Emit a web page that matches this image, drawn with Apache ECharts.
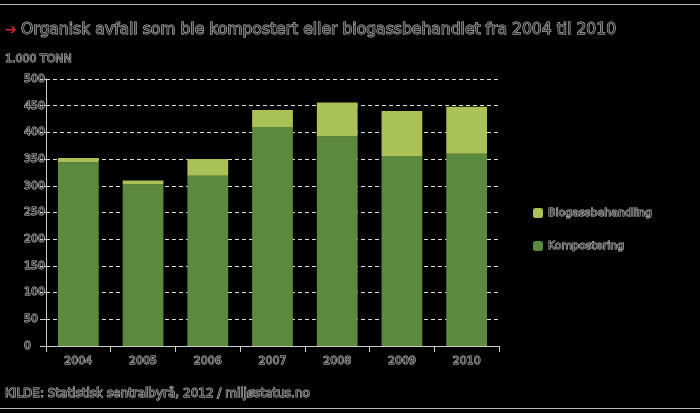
<!DOCTYPE html>
<html><head><meta charset="utf-8">
<script src="https://cdn.jsdelivr.net/npm/echarts@6/dist/echarts.min.js"></script>
<style>html,body{margin:0;padding:0;background:#000;}#c{width:700px;height:413px;}</style>
</head><body><div id="c"></div>
<script>
const years = ['2004','2005','2006','2007','2008','2009','2010'];
const kompostering = [344, 303, 319, 410, 393, 356, 360];
const biogass = [8, 7, 31, 32, 63, 84, 88];
const yTicks = [0, 50, 100, 150, 200, 250, 300, 350, 400, 450, 500];

const txt = {color:'#333', textBorderColor:'#cfcfcf', textBorderWidth:1, fontFamily:'DejaVu Sans'};
const chart = echarts.init(document.getElementById('c'));
chart.setOption({
  backgroundColor:'#000',
  animation:false,
  title:[{
    text:'{a|➔}{t|Organisk avfall som ble kompostert eller biogassbehandlet fra 2004 til 2010}',
    left:0, top:17,
    textStyle:Object.assign({}, txt, {fontSize:15.6, fontWeight:'normal', rich:{
      a:{color:'#d2232a', fontSize:14, textBorderWidth:0, width:16},
      t:Object.assign({}, txt, {fontSize:15.6})
    }})
  },{
    text:'1.000 TONN', left:0, top:49,
    textStyle:Object.assign({}, txt, {fontSize:11, fontWeight:'normal'})
  },{
    text:'KILDE: Statistisk sentralbyrå, 2012 / miljøstatus.no', left:0, top:383,
    textStyle:Object.assign({}, txt, {fontSize:12, fontWeight:'normal'})
  }],
  graphic:[
    {type:'line', shape:{x1:0,y1:4.5,x2:700,y2:4.5}, style:{stroke:'#bbb', lineWidth:1}},
    {type:'line', shape:{x1:0,y1:408.5,x2:700,y2:408.5}, style:{stroke:'#bbb', lineWidth:1}}
  ],
  legend:{
    orient:'vertical', left:528, top:202, itemGap:21, itemWidth:10, itemHeight:10,
    data:['Biogassbehandling','Kompostering'],
    textStyle:Object.assign({}, txt, {fontSize:11})
  },
  grid:{left:46, right:201, top:79, bottom:67},
  xAxis:{
    type:'category', data:years,
    axisLine:{lineStyle:{color:'#ccc'}},
    axisTick:{show:true, length:6, lineStyle:{color:'#ccc'}},
    axisLabel:Object.assign({}, txt, {fontSize:11, margin:10})
  },
  yAxis:{
    type:'value', min:0, max:500, interval:50,
    axisLine:{show:true, lineStyle:{color:'#ccc'}},
    axisTick:{show:true, length:6, lineStyle:{color:'#ccc'}},
    splitLine:{lineStyle:{color:'#ddd', type:[4,3]}},
    axisLabel:Object.assign({}, txt, {fontSize:11, margin:22, align:'left'})
  },
  series:[
    {name:'Kompostering', type:'bar', stack:'a', data:kompostering, barWidth:'63%', itemStyle:{color:'#5b8a3e'}},
    {name:'Biogassbehandling', type:'bar', stack:'a', data:biogass, barWidth:'63%', itemStyle:{color:'#a9c157'}}
  ]
});
</script></body></html>
